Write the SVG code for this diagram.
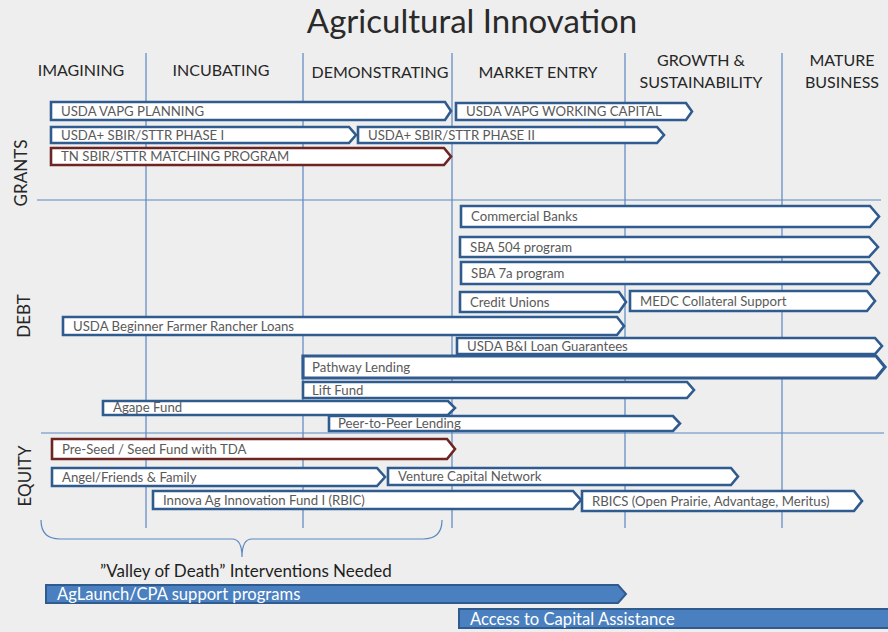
<svg xmlns="http://www.w3.org/2000/svg" width="888" height="632" viewBox="0 0 888 632">
  <style>
    .bg { fill: #eeeeee; }
    .grid { stroke: #5b87c2; stroke-width: 1.2; fill: none; }
    .title { font-family: Lato, "Liberation Sans", sans-serif; font-size: 33px; fill: #2a2a2a; text-anchor: middle; }
    .head { font-family: Lato, "Liberation Sans", sans-serif; font-size: 16px; fill: #262626; text-anchor: middle; }
    .row { font-family: Lato, "Liberation Sans", sans-serif; font-size: 17px; fill: #262626; text-anchor: middle; }
    .bar { fill: #ffffff; stroke: #2f5b8f; stroke-width: 2.6; stroke-linejoin: miter; }
    .bar.red { stroke: #6e2422; }
    .bar.heavy { stroke-width: 3.2; }
    .lbl { font-family: Lato, "Liberation Sans", sans-serif; font-size: 13.2px; fill: #5a5a5a; }
    .solid { fill: #4a7fc0; stroke: #2f5b8f; stroke-width: 2; }
    .wl { font-family: Lato, "Liberation Sans", sans-serif; font-size: 16.6px; fill: #ffffff; }
    .note { font-family: Lato, "Liberation Sans", sans-serif; font-size: 17px; fill: #1e1e1e; }
    .brace { stroke: #5b87c2; stroke-width: 1.2; fill: none; }
  </style>

  <rect class="bg" x="0" y="0" width="888" height="632"/>

  <text class="title" x="472" y="33">Agricultural Innovation</text>

  <!-- stage columns and row dividers -->
  <g id="grid">
    <line class="grid" x1="146" y1="53" x2="146" y2="528"/>
    <line class="grid" x1="303" y1="53" x2="303" y2="528"/>
    <line class="grid" x1="452" y1="53" x2="452" y2="528"/>
    <line class="grid" x1="625" y1="53" x2="625" y2="528"/>
    <line class="grid" x1="782" y1="53" x2="782" y2="528"/>
    <line class="grid" x1="37" y1="200" x2="881" y2="200"/>
    <line class="grid" x1="41" y1="433" x2="884" y2="433"/>
  </g>

  <g id="stage-headers">
    <text class="head" x="81" y="76">IMAGINING</text>
    <text class="head" x="221" y="76">INCUBATING</text>
    <text class="head" x="380" y="78">DEMONSTRATING</text>
    <text class="head" x="538" y="78">MARKET ENTRY</text>
    <text class="head" x="701" y="66">GROWTH &amp;</text>
    <text class="head" x="701" y="88">SUSTAINABILITY</text>
    <text class="head" x="842" y="66">MATURE</text>
    <text class="head" x="842" y="88">BUSINESS</text>
  </g>

  <g id="row-labels">
    <text class="row" transform="translate(27 173) rotate(-90)">GRANTS</text>
    <text class="row" transform="translate(30 316) rotate(-90)">DEBT</text>
    <text class="row" transform="translate(31 476) rotate(-90)">EQUITY</text>
  </g>

  <!-- GRANTS -->
  <g id="usda-vapg-planning">
    <path class="bar" d="M51 102H445L451 111L445 120H51Z"/>
    <text class="lbl" x="61" y="116">USDA VAPG PLANNING</text>
  </g>
  <g id="usda-vapg-working-capital">
    <path class="bar" d="M456 103H686L692 111.5L686 120H456Z"/>
    <text class="lbl" x="466" y="116">USDA VAPG WORKING CAPITAL</text>
  </g>
  <g id="sbir-phase-1">
    <path class="bar" d="M51 127H349L356 135L349 143H51Z"/>
    <text class="lbl" x="61" y="139.5">USDA+ SBIR/STTR PHASE I</text>
  </g>
  <g id="sbir-phase-2">
    <path class="bar" d="M358 127H657L664 135L657 143H358Z"/>
    <text class="lbl" x="368" y="139.5">USDA+ SBIR/STTR PHASE II</text>
  </g>
  <g id="tn-sbir-matching">
    <path class="bar red" d="M51 148H444L451 156.5L444 165H51Z"/>
    <text class="lbl" x="61" y="161">TN SBIR/STTR MATCHING PROGRAM</text>
  </g>

  <!-- DEBT -->
  <g id="commercial-banks">
    <path class="bar" d="M461 206H870L879 216.5L870 227H461Z"/>
    <text class="lbl" x="471" y="221">Commercial Banks</text>
  </g>
  <g id="sba-504">
    <path class="bar" d="M460 237H869L878 247L869 257H460Z"/>
    <text class="lbl" x="470" y="252">SBA 504 program</text>
  </g>
  <g id="sba-7a">
    <path class="bar" d="M461 262H870L879 273L870 284H461Z"/>
    <text class="lbl" x="471" y="278">SBA 7a program</text>
  </g>
  <g id="credit-unions">
    <path class="bar" d="M460 292H619L626 302L619 312H460Z"/>
    <text class="lbl" x="470" y="307">Credit Unions</text>
  </g>
  <g id="medc-collateral">
    <path class="bar" d="M630 291H867L875 301L867 311H630Z"/>
    <text class="lbl" x="640" y="306">MEDC Collateral Support</text>
  </g>
  <g id="usda-beginner-farmer">
    <path class="bar" d="M63 317H617L624 326L617 335H63Z"/>
    <text class="lbl" x="73" y="330.5">USDA Beginner Farmer Rancher Loans</text>
  </g>
  <g id="usda-bi-loan">
    <path class="bar" d="M457 338H875L882 346L875 354H457Z"/>
    <text class="lbl" x="467" y="351">USDA B&amp;I Loan Guarantees</text>
  </g>
  <g id="pathway-lending">
    <path class="bar heavy" d="M303 356H876L885 367L876 378H303Z"/>
    <text class="lbl" x="312" y="372">Pathway Lending</text>
  </g>
  <g id="lift-fund">
    <path class="bar" d="M303 382H687L694 390L687 398H303Z"/>
    <text class="lbl" x="312" y="395">Lift Fund</text>
  </g>
  <g id="agape-fund">
    <path class="bar" d="M103 401H448L455 408L448 415H103Z"/>
    <text class="lbl" x="113" y="412">Agape Fund</text>
  </g>
  <g id="peer-to-peer">
    <path class="bar" d="M329 416H673L680 423.5L673 431H329Z"/>
    <text class="lbl" x="338" y="428">Peer-to-Peer Lending</text>
  </g>

  <!-- EQUITY -->
  <g id="pre-seed-tda">
    <path class="bar red" d="M52 439H447L455 449L447 459H52Z"/>
    <text class="lbl" x="62" y="454">Pre-Seed / Seed Fund with TDA</text>
  </g>
  <g id="angel-friends-family">
    <path class="bar" d="M52 468H377L385 477L377 486H52Z"/>
    <text class="lbl" x="62" y="482">Angel/Friends &amp; Family</text>
  </g>
  <g id="venture-capital-network">
    <path class="bar" d="M388 468H731L738 476.5L731 485H388Z"/>
    <text class="lbl" x="398" y="481">Venture Capital Network</text>
  </g>
  <g id="innova-ag-fund">
    <path class="bar" d="M153 491H573L581 500L573 509H153Z"/>
    <text class="lbl" x="163" y="505">Innova Ag Innovation Fund I (RBIC)</text>
  </g>
  <g id="rbics">
    <path class="bar" d="M582 491H854L862 501L854 511H582Z"/>
    <text class="lbl" x="592" y="506">RBICS (Open Prairie, Advantage, Meritus)</text>
  </g>

  <!-- bracket over the early stages -->
  <g id="valley-bracket">
    <path class="brace" d="M41 520Q41 539 60 539H232Q242 539 242 557Q242 539 252 539H423Q442 539 442 520"/>
    <text class="note" x="100" y="577">”Valley of Death” Interventions Needed</text>
  </g>

  <g id="aglaunch-cpa">
    <path class="solid" d="M46 585H618L626 594L618 603H46Z"/>
    <text class="wl" x="57" y="600">AgLaunch/CPA support programs</text>
  </g>
  <g id="access-to-capital">
    <rect class="solid" x="459" y="609" width="440" height="19"/>
    <text class="wl" x="470" y="625">Access to Capital Assistance</text>
  </g>
</svg>
